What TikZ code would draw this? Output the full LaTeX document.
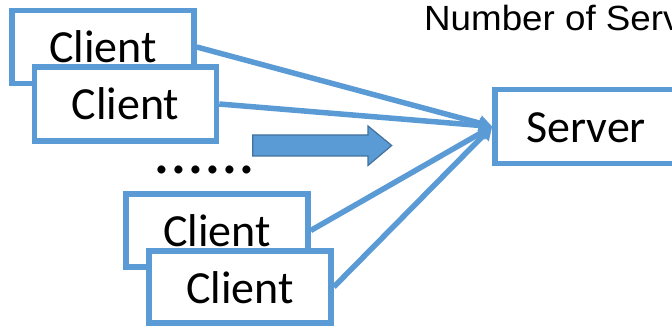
\documentclass[tikz,border=0pt]{standalone}
\usepackage{fontspec}
\usetikzlibrary{arrows.meta}
\setmainfont{Carlito}
\newfontfamily\labelfont[FakeStretch=1.05]{Liberation Sans}
\definecolor{boxblue}{HTML}{5B9BD5}
\definecolor{edgeblue}{HTML}{41719C}
\begin{document}
\begin{tikzpicture}[x=1pt,y=-1pt,
  hostbox/.style={draw=boxblue, line width=5.5pt, fill=white,
    minimum width=182pt, minimum height=73pt, inner sep=0pt,
    text height=32pt, text depth=0pt, font=\fontsize{46}{50}\selectfont},
  link/.style={draw=boxblue, line width=5.5pt,
    -{Triangle[length=13pt,width=15pt]}},
  bigarrow/.style={fill=boxblue, draw=edgeblue, line width=1.2pt, line join=miter}]
\useasboundingbox (0,0) rectangle (672,326);
\clip (0,0) rectangle (672,326);

% clients, stacked so each later box covers the one before
\node[hostbox] (c1) at (103,47) {Client};
\node[hostbox, minimum height=74pt] (c2) at (125.5,104) {Client};
\node[hostbox] (c3) at (217,230.5) {Client};
\node[hostbox, minimum height=72pt] (c4) at (240,287) {Client};

% server box runs off the right edge
\node[hostbox, minimum height=74pt] (server) at (586,126.5) {Server};

% request lines
\draw[link] (c1.east) -- (server.west);
\draw[link] (c2.east) -- (server.west);
\draw[link] (c3.east) -- (server.west);
\draw[link] (c4.east) -- (server.west);

% block arrow
\draw[bigarrow] (252.7,135) -- (368,135) -- (368,126) -- (391.7,145.5)
  -- (368,165.5) -- (368,156) -- (252.7,156) -- cycle;

% ellipsis between the client groups
\node[anchor=base west, inner sep=0pt, font=\fontsize{67}{70}\selectfont]
  (more) at (153.6,173.5) {......};

% heading, cut by the right edge
\node[anchor=base west, inner sep=0pt, font=\labelfont\fontsize{35}{39}\selectfont]
  (title) at (424,30.5) {Number of Serv};
\end{tikzpicture}
\end{document}
